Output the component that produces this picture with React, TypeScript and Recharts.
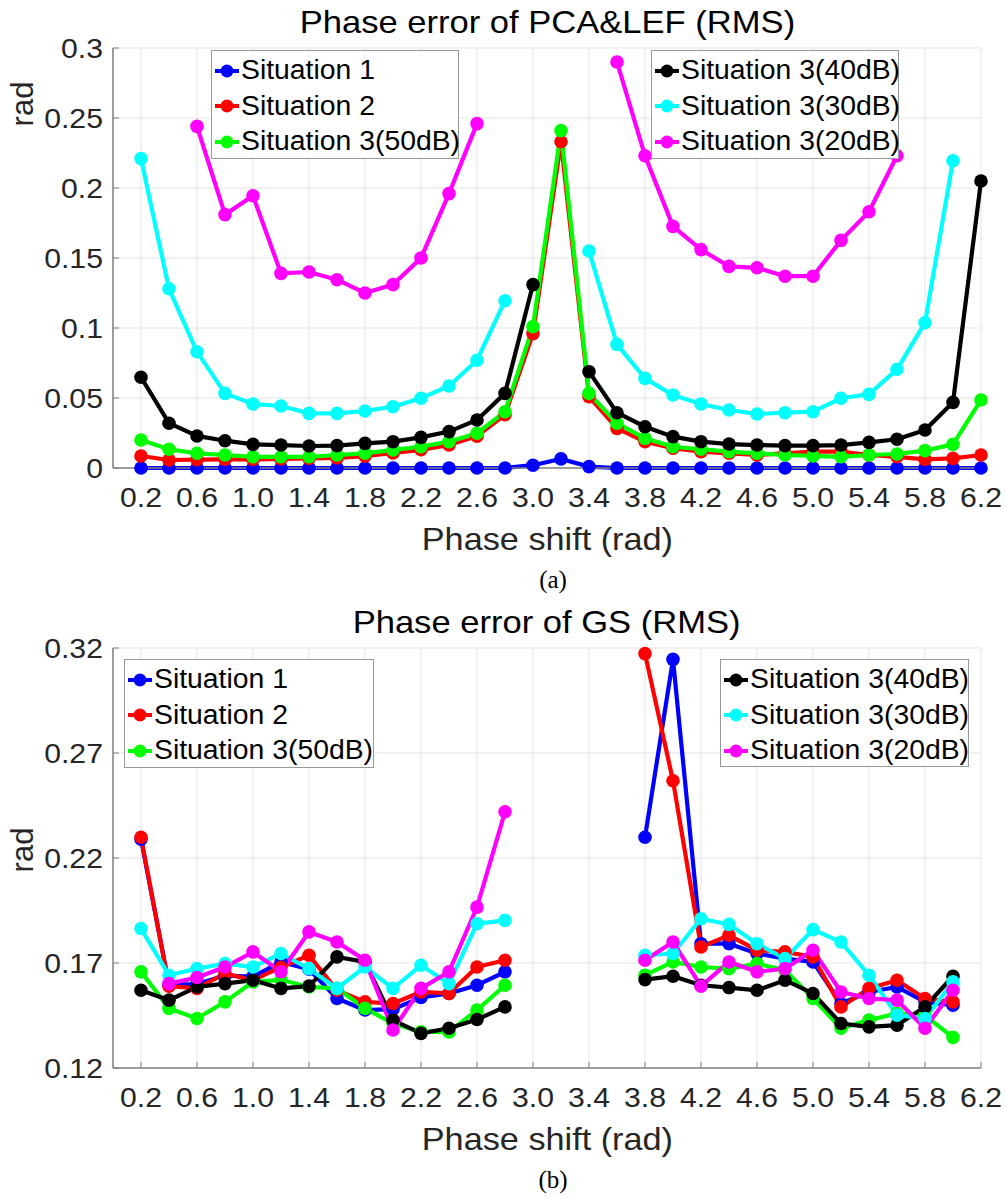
import React from 'react';
import { LineChart, Line, XAxis, YAxis, CartesianGrid } from 'recharts';

// phase shift positions (rad)
const phaseShift = [
  0.2, 0.4, 0.6, 0.8, 1.0, 1.2, 1.4, 1.6, 1.8, 2.0, 2.2, 2.4, 2.6, 2.8, 3.0, 3.2,
  3.4, 3.6, 3.8, 4.0, 4.2, 4.4, 4.6, 4.8, 5.0, 5.2, 5.4, 5.6, 5.8, 6.0, 6.2,
];
const xTicks = [0.2, 0.6, 1.0, 1.4, 1.8, 2.2, 2.6, 3.0, 3.4, 3.8, 4.2, 4.6, 5.0, 5.4, 5.8, 6.2];

const seriesNames = [
  'Situation 1', 'Situation 2', 'Situation 3(50dB)',
  'Situation 3(40dB)', 'Situation 3(30dB)', 'Situation 3(20dB)',
];
const seriesColors = ['#0000ff', '#ff0000', '#00ff00', '#000000', '#00ffff', '#ff00ff'];

// (a) PCA&LEF
const pcaSit1 = [0, 0, 0, 0, 0, 0, 0, 0, 0, 0, 0, 0, 0, 0, 0.002, 0.0065, 0.001, 0, 0, 0, 0, 0, 0, 0, 0, 0, 0, 0, 0, 0, 0];
const pcaSit2 = [0.0086, 0.0057, 0.006, 0.0062, 0.0062, 0.0065, 0.0068, 0.0072, 0.0085, 0.0108, 0.013, 0.0165, 0.0228, 0.038, 0.096, 0.233, 0.051, 0.0283, 0.0188, 0.0141, 0.0117, 0.0105, 0.0093, 0.0105, 0.0117, 0.0117, 0.0093, 0.008, 0.0062, 0.0069, 0.0093];
const pcaSit3_50 = [0.02, 0.0134, 0.0105, 0.0093, 0.008, 0.008, 0.008, 0.0093, 0.0105, 0.0129, 0.0152, 0.0188, 0.0248, 0.0402, 0.101, 0.241, 0.0533, 0.032, 0.0212, 0.0152, 0.0134, 0.0117, 0.0105, 0.0093, 0.0086, 0.008, 0.0093, 0.01, 0.0124, 0.0169, 0.0486];
const pcaSit3_40 = [0.0648, 0.032, 0.0229, 0.0195, 0.0169, 0.0164, 0.0157, 0.016, 0.0176, 0.0188, 0.0219, 0.026, 0.0343, 0.0533, 0.131, null, 0.0688, 0.0395, 0.0295, 0.0224, 0.0188, 0.0171, 0.0164, 0.016, 0.016, 0.0164, 0.0183, 0.0205, 0.0271, 0.0469, 0.205];
const pcaSit3_30 = [0.221, 0.128, 0.083, 0.0533, 0.0457, 0.0443, 0.039, 0.039, 0.0407, 0.0438, 0.0498, 0.0586, 0.077, 0.1195, null, null, 0.155, 0.0883, 0.064, 0.0521, 0.0457, 0.0414, 0.0386, 0.0395, 0.0402, 0.0498, 0.0526, 0.0705, 0.1038, 0.2195, null];
const pcaSit3_20 = [null, null, 0.244, 0.181, 0.1945, 0.139, 0.14, 0.1345, 0.125, 0.131, 0.15, 0.196, 0.246, null, null, null, null, 0.29, 0.223, 0.1726, 0.156, 0.144, 0.143, 0.137, 0.137, 0.1626, 0.183, 0.223, null, null, null];

// (b) GS
const gsSit1 = [0.229, 0.1596, 0.16, 0.164, 0.1635, 0.1705, 0.167, 0.1531, 0.1476, 0.148, 0.1536, 0.1555, 0.1594, 0.1658, null, null, null, null, 0.2299, 0.3146, 0.1792, 0.1792, 0.1745, 0.1721, 0.1705, 0.1507, 0.1562, 0.1586, 0.1515, 0.1499, null];
const gsSit2 = [0.2299, 0.159, 0.1579, 0.165, 0.1618, 0.168, 0.1737, 0.157, 0.1515, 0.1507, 0.1562, 0.1555, 0.1681, 0.1713, null, null, null, null, 0.3173, 0.2568, 0.1776, 0.1832, 0.1761, 0.1753, 0.1729, 0.1491, 0.1579, 0.1618, 0.1531, 0.1515, null];
const gsSit3_50 = [0.1658, 0.1484, 0.1436, 0.1515, 0.161, 0.162, 0.1586, 0.1579, 0.1484, 0.1412, 0.1372, 0.1372, 0.1476, 0.1594, null, null, null, null, 0.1642, 0.1705, 0.1681, 0.1673, 0.1697, 0.1666, 0.1531, 0.1389, 0.1428, 0.146, 0.145, 0.1346, null];
const gsSit3_40 = [0.157, 0.1523, 0.1586, 0.1602, 0.1618, 0.1579, 0.159, 0.1729, 0.1705, 0.1428, 0.1365, 0.1389, 0.1431, 0.1491, null, null, null, null, 0.1621, 0.1637, 0.1594, 0.1583, 0.157, 0.1618, 0.1555, 0.1412, 0.1396, 0.1404, 0.1491, 0.1637, null];
const gsSit3_30 = [0.1864, 0.1642, 0.1673, 0.1697, 0.1681, 0.1745, 0.1673, 0.1579, 0.1681, 0.1579, 0.1689, 0.1602, 0.1887, 0.1903, null, null, null, null, 0.1737, 0.1745, 0.1911, 0.1884, 0.1792, 0.1721, 0.1859, 0.18, 0.1642, 0.1452, 0.1436, 0.161, null];
const gsSit3_20 = [null, 0.1602, 0.1631, 0.1681, 0.1753, 0.1658, 0.1848, 0.18, 0.1713, 0.1381, 0.1579, 0.1658, 0.1966, 0.242, null, null, null, null, 0.1713, 0.18, 0.159, 0.1705, 0.1658, 0.1673, 0.1761, 0.1562, 0.1531, 0.1523, 0.1389, 0.157, null];

const pcaTicks = [0, 0.05, 0.1, 0.15, 0.2, 0.25, 0.3];
const gsTicks = [0.12, 0.17, 0.22, 0.27, 0.32];

const keys = ['s1', 's2', 's50', 's40', 's30', 's20'];

const buildRows = (series: (number | null)[][]) =>
  phaseShift.map((x, i) => {
    const row: any = { x };
    series.forEach((s, k) => { row[keys[k]] = s[i]; });
    return row;
  });

const pcaRows = buildRows([pcaSit1, pcaSit2, pcaSit3_50, pcaSit3_40, pcaSit3_30, pcaSit3_20]);
const gsRows = buildRows([gsSit1, gsSit2, gsSit3_50, gsSit3_40, gsSit3_30, gsSit3_20]);

const FONT = '"Liberation Sans", Arial, sans-serif';
const FRAME = '#808080';
const TEXT = '#262626';

// the original's text is a little wider than Arial, stretch it horizontally
const XTick = (props: any) => {
  const { x, y, payload } = props;
  return (
    <text transform={`translate(${x},${y}) scale(1.12,1)`} textAnchor="middle" dy="0.71em"
      fill={TEXT} fontSize={27} fontFamily={FONT}>
      {Number(payload.value).toFixed(1)}
    </text>
  );
};

const YTick = (props: any) => {
  const { x, y, payload } = props;
  return (
    <text transform={`translate(${x},${y}) scale(1.12,1)`} textAnchor="end" dy="0.355em"
      fill={TEXT} fontSize={27} fontFamily={FONT}>
      {String(payload.value)}
    </text>
  );
};

const Stretched = ({ children, sx }: { children: React.ReactNode; sx: number }) => (
  <span style={{ display: 'inline-block', transform: `scaleX(${sx})` }}>{children}</span>
);

const LegendBox = ({ left, top, width, height, items }: { left: number; top: number; width: number; height: number; items: number[] }) => (
  <div style={{
    position: 'absolute', left, top, width, height, boxSizing: 'border-box',
    border: '1px solid #999', background: '#fff', paddingTop: 2,
  }}>
    {items.map(i => (
      <div key={i} style={{ height: 35.5, display: 'flex', alignItems: 'center' }}>
        <svg width={24} height={16} style={{ marginLeft: 3, flexShrink: 0 }}>
          <line x1={0} y1={8} x2={24} y2={8} stroke={seriesColors[i]} strokeWidth={4} />
          <circle cx={12} cy={8} r={6.5} fill={seriesColors[i]} />
        </svg>
        <span style={{
          fontFamily: FONT, fontSize: 27, color: '#000', marginLeft: 2, whiteSpace: 'nowrap', lineHeight: '35px',
          display: 'inline-block', transform: 'scaleX(1.05)', transformOrigin: 'left center',
        }}>
          {seriesNames[i]}
        </span>
      </div>
    ))}
  </div>
);

type PanelProps = {
  top: number;
  title: string;
  caption: string;
  rows: any[];
  yDomain: [number, number];
  yTicks: number[];
  yLabelCenter: number;
  legends: { left: number; top: number; width: number; height: number; items: number[] }[];
};

const Panel = ({ top, title, caption, rows, yDomain, yTicks, yLabelCenter, legends }: PanelProps) => (
  <div style={{ position: 'absolute', left: 0, top, width: 1006, height: 599 }}>
    <LineChart width={1006} height={599} data={rows} margin={{ top: 48, right: 25, bottom: 71, left: 33 }}>
      <CartesianGrid stroke="#e3e3e3" strokeWidth={1} />
      <XAxis
        dataKey="x" type="number" domain={[0, 6.2]} ticks={xTicks} interval={0}
        height={60} tickSize={-6} tickMargin={26} tick={<XTick />}
        tickLine={{ stroke: FRAME }} axisLine={{ stroke: FRAME, strokeWidth: 1.5 }}
      />
      <XAxis
        xAxisId="top" orientation="top" type="number" domain={[0, 6.2]} ticks={xTicks} interval={0}
        height={0} tickSize={-6} tick={false}
        tickLine={{ stroke: FRAME }} axisLine={{ stroke: FRAME, strokeWidth: 1.5 }}
      />
      <YAxis
        type="number" domain={yDomain} ticks={yTicks} interval={0} width={80}
        tickSize={-6} tickMargin={16} tick={<YTick />}
        tickLine={{ stroke: FRAME }} axisLine={{ stroke: FRAME, strokeWidth: 1.5 }}
      />
      <YAxis
        yAxisId="right" orientation="right" type="number" domain={yDomain} ticks={yTicks} interval={0}
        width={0} tickSize={-6} tick={false}
        tickLine={{ stroke: FRAME }} axisLine={{ stroke: FRAME, strokeWidth: 1.5 }}
      />
      {keys.map((k, i) => (
        <Line
          key={k} dataKey={k} stroke={seriesColors[i]} strokeWidth={4.2}
          dot={{ r: 6.8, fill: seriesColors[i], stroke: seriesColors[i], strokeWidth: 0 }}
          activeDot={false} connectNulls={false} isAnimationActive={false}
        />
      ))}
    </LineChart>

    <div style={{ position: 'absolute', left: 113, width: 868, top: 6, textAlign: 'center', fontFamily: FONT, fontSize: 32, lineHeight: '32px', color: '#000' }}>
      <Stretched sx={1.08}>{title}</Stretched>
    </div>
    <div style={{
      position: 'absolute', left: 22, top: yLabelCenter, transform: 'translate(-50%, -50%) rotate(-90deg)',
      fontFamily: FONT, fontSize: 31, lineHeight: '31px', color: TEXT,
    }}>
      rad
    </div>
    <div style={{ position: 'absolute', left: 113, width: 868, top: 523, textAlign: 'center', fontFamily: FONT, fontSize: 32, lineHeight: '32px', color: TEXT }}>
      <Stretched sx={1.07}>Phase shift (rad)</Stretched>
    </div>
    <div style={{ position: 'absolute', left: 453, width: 200, top: 567, textAlign: 'center', fontFamily: '"Liberation Serif", "Times New Roman", serif', fontSize: 25, lineHeight: '25px', color: '#000' }}>
      {caption}
    </div>
    {legends.map((l, i) => <LegendBox key={i} {...l} />)}
  </div>
);

export default function App() {
  return (
    <div style={{ position: 'absolute', left: 0, top: 0, width: 1006, height: 1199, background: '#fff' }}>
      <Panel
        top={0} title="Phase error of PCA&LEF (RMS)" caption="(a)" rows={pcaRows}
        yDomain={[0, 0.3]} yTicks={pcaTicks} yLabelCenter={104}
        legends={[
          { left: 211, top: 50, width: 248, height: 109, items: [0, 1, 2] },
          { left: 651, top: 50, width: 248, height: 109, items: [3, 4, 5] },
        ]}
      />
      <Panel
        top={600} title="Phase error of GS (RMS)" caption="(b)" rows={gsRows}
        yDomain={[0.12, 0.32]} yTicks={gsTicks} yLabelCenter={250}
        legends={[
          { left: 124, top: 59, width: 250, height: 109, items: [0, 1, 2] },
          { left: 720, top: 59, width: 249, height: 108, items: [3, 4, 5] },
        ]}
      />
    </div>
  );
}
